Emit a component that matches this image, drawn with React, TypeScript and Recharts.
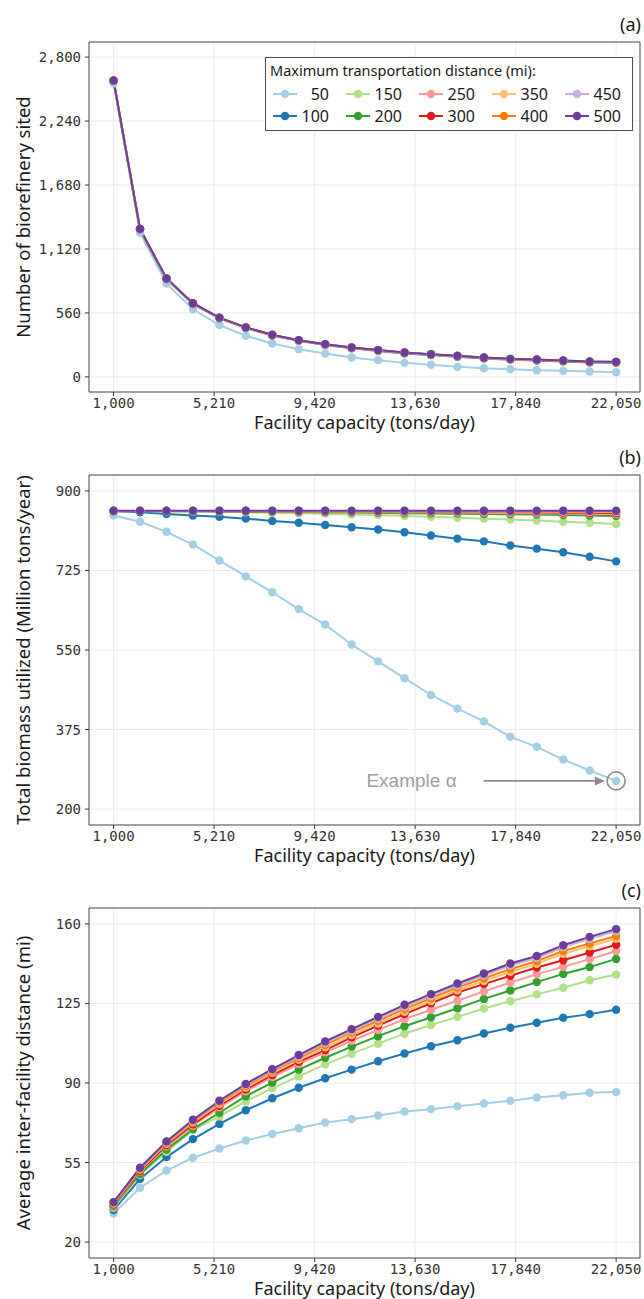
import React from "react";
import {
  CartesianGrid,
  Line,
  LineChart,
  ReferenceArea,
  ReferenceDot,
  ReferenceLine,
  XAxis,
  YAxis
} from "recharts";

const TEXT_FONT = "'Noto Sans', 'Open Sans', sans-serif";
const TICK_FONT = "'DejaVu Sans Mono', monospace";

// facility capacity (tons/day), 20 runs
const capacities = [
  1000, 2108, 3216, 4324, 5432, 6539, 7647, 8755, 9863, 10971,
  12079, 13187, 14295, 15403, 16511, 17618, 18726, 19834, 20942, 22050
];
const distances = [50, 100, 150, 200, 250, 300, 350, 400, 450, 500];
const colors = [
  "#a6cee3", "#1f78b4", "#b2df8a", "#33a02c", "#fb9a99",
  "#e31a1c", "#fdbf6f", "#ff7f00", "#cab2d6", "#6a3d9a"
];

const xTicks = [1000, 5210, 9420, 13630, 17840, 22050];
const sitedTicks = [0, 560, 1120, 1680, 2240, 2800];
const biomassTicks = [200, 375, 550, 725, 900];
const spacingTicks = [20, 55, 90, 125, 160];

// (a) number of biorefineries sited
const sited50 = [2571, 1261, 817, 592, 454, 361, 293, 243, 205, 170, 147, 123, 106, 88, 76, 67, 59, 53, 47, 41];
const sited100 = [2590, 1290, 857, 639, 513, 428, 362, 316, 280, 251, 227, 206, 191, 177, 162, 150, 144, 136, 127, 123];
const sited150 = [2591, 1292, 859, 641, 515, 430, 365, 318, 283, 254, 230, 209, 194, 180, 165, 153, 147, 139, 130, 127];
const sited200 = [2592, 1293, 859, 642, 516, 431, 366, 319, 284, 255, 231, 210, 195, 181, 166, 154, 148, 140, 131, 128];
const sited250 = [2592, 1293, 860, 642, 516, 431, 366, 319, 284, 255, 232, 211, 196, 182, 167, 155, 149, 141, 132, 129];
const sited300 = [2593, 1294, 860, 643, 517, 432, 367, 320, 285, 256, 233, 212, 196, 182, 168, 156, 149, 141, 133, 129];
const sited350 = [2593, 1294, 860, 643, 517, 432, 367, 320, 285, 256, 233, 212, 197, 183, 168, 156, 150, 142, 133, 130];
const sited400 = [2593, 1294, 861, 644, 518, 433, 368, 321, 286, 257, 234, 213, 197, 183, 169, 157, 150, 142, 134, 130];
const sited450 = [2594, 1295, 861, 644, 518, 433, 368, 321, 286, 257, 234, 213, 198, 184, 169, 157, 151, 143, 134, 131];
const sited500 = [2595, 1296, 862, 645, 519, 434, 369, 322, 287, 258, 235, 214, 199, 185, 170, 158, 152, 144, 135, 132];

// (b) total biomass utilized (million tons/year)
const biomass50 = [846, 832, 810, 782, 747, 712, 677, 640, 606, 562, 525, 488, 451, 421, 393, 359, 337, 309, 285, 262];
const biomass100 = [855, 853, 849, 846, 843, 839, 834, 830, 825, 820, 815, 809, 802, 795, 789, 780, 773, 765, 755, 745];
const biomass150 = [856, 855.5, 855, 854.5, 854, 853, 852, 851, 850, 848, 847, 845, 843, 841, 839, 837, 835, 832, 830, 827];
const biomass200 = [856, 856, 855.5, 855.5, 855, 854.5, 854, 853.5, 853, 852.5, 852, 851, 850.5, 850, 849, 848.5, 848, 847, 846, 845];
const biomass250 = [856, 856, 856, 855.5, 855.5, 855, 855, 854.5, 854.5, 854, 853.5, 853, 853, 852.5, 852, 851.5, 851, 850.5, 850, 849];
const biomass300 = [856, 856, 856, 856, 855.5, 855.5, 855.5, 855, 855, 855, 854.5, 854.5, 854, 854, 853.5, 853.5, 853, 852.5, 852, 851.5];
const biomass350 = [856, 856, 856, 856, 856, 856, 855.5, 855.5, 855.5, 855.5, 855, 855, 855, 855, 854.5, 854.5, 854.5, 854, 854, 853.5];
const biomass400 = [856, 856, 856, 856, 856, 856, 856, 856, 855.5, 855.5, 855.5, 855.5, 855.5, 855, 855, 855, 855, 854.5, 854.5, 854.5];
const biomass450 = [856, 856, 856, 856, 856, 856, 856, 856, 856, 856, 856, 855.5, 855.5, 855.5, 855.5, 855.5, 855.5, 855, 855, 855];
const biomass500 = [856.5, 856.5, 856.5, 856.5, 856.5, 856.5, 856.5, 856.5, 856.5, 856.5, 856.5, 856.5, 856.5, 856.5, 856.5, 856.5, 856.5, 856.5, 856.5, 856.5];

// (c) average inter-facility distance (mi)
const spacing50 = [32.6, 43.9, 51.5, 57.1, 61.2, 64.7, 67.6, 70.1, 72.6, 74.1, 75.7, 77.5, 78.5, 79.8, 81.0, 82.2, 83.6, 84.6, 85.7, 86.0];
const spacing100 = [34.1, 47.8, 57.4, 65.3, 72.0, 78.0, 83.3, 87.9, 92.1, 95.9, 99.6, 103.0, 106.2, 108.8, 111.8, 114.3, 116.5, 118.7, 120.3, 122.2];
const spacing150 = [35.1, 49.5, 59.7, 69.3, 75.3, 81.9, 87.7, 92.9, 98.2, 102.9, 107.3, 111.7, 115.5, 119.1, 122.8, 126.0, 129.0, 131.9, 135.2, 137.7];
const spacing200 = [35.8, 50.0, 60.7, 69.7, 76.9, 84.2, 90.2, 95.9, 101.1, 106.0, 110.6, 115.0, 118.9, 122.9, 127.0, 130.7, 134.4, 138.0, 141.0, 144.6];
const spacing250 = [36.2, 51.0, 62.0, 71.2, 79.3, 86.4, 92.6, 98.3, 103.5, 108.6, 113.3, 118.1, 122.2, 126.2, 130.3, 134.2, 137.9, 141.1, 144.5, 148.1];
const spacing300 = [36.5, 51.3, 62.6, 71.8, 80.0, 87.2, 93.5, 99.3, 104.5, 110.1, 115.3, 120.3, 125.1, 129.8, 133.5, 137.2, 140.8, 144.0, 147.4, 150.8];
const spacing350 = [37.0, 51.9, 63.3, 72.6, 80.8, 88.0, 94.5, 100.3, 105.7, 111.1, 116.2, 121.3, 126.1, 130.8, 134.9, 138.9, 142.5, 146.9, 150.2, 153.5];
const spacing400 = [37.2, 52.2, 63.7, 73.1, 81.4, 88.7, 95.2, 101.0, 106.8, 112.3, 117.4, 122.5, 127.3, 132.0, 136.1, 140.1, 143.7, 148.1, 151.4, 154.7];
const spacing450 = [37.4, 52.5, 64.0, 73.5, 81.8, 89.2, 95.7, 101.6, 107.6, 113.0, 118.3, 123.5, 128.2, 132.9, 137.3, 141.7, 145.0, 149.7, 153.4, 156.8];
const spacing500 = [37.6, 52.7, 64.3, 73.8, 82.2, 89.6, 96.1, 102.3, 108.3, 113.7, 119.1, 124.4, 129.1, 133.8, 138.2, 142.6, 145.9, 150.6, 154.3, 157.7];

const sitedSeries = [sited50, sited100, sited150, sited200, sited250, sited300, sited350, sited400, sited450, sited500];
const biomassSeries = [biomass50, biomass100, biomass150, biomass200, biomass250, biomass300, biomass350, biomass400, biomass450, biomass500];
const spacingSeries = [spacing50, spacing100, spacing150, spacing200, spacing250, spacing300, spacing350, spacing400, spacing450, spacing500];

const X_DOMAIN: [number, number] = [-30, 23050];

function toRows(series: number[][]) {
  return capacities.map((capacity, i) => {
    const row: Record<string, number> = { capacity };
    distances.forEach((d, k) => {
      row[`d${d}`] = series[k][i];
    });
    return row;
  });
}

const fmtTick = (v: number) => v.toLocaleString("en-US");

function YTitle({ viewBox, text }: { viewBox?: any; text: string }) {
  const cy = viewBox ? viewBox.y + viewBox.height / 2 : 217;
  const cx = 22;
  return (
    <text
      x={cx}
      y={cy}
      transform={`rotate(-90 ${cx} ${cy})`}
      textAnchor="middle"
      dominantBaseline="central"
      fontFamily={TEXT_FONT}
      fontSize={18.5}
      fill="#1a1a1a"
    >
      {text}
    </text>
  );
}

function XTitle({ viewBox }: { viewBox?: any }) {
  const cx = viewBox ? viewBox.x + viewBox.width / 2 : 365;
  const cy = viewBox ? viewBox.y + 30 : 422;
  return (
    <text x={cx} y={cy} textAnchor="middle" dominantBaseline="central" fontFamily={TEXT_FONT} fontSize={18} fill="#1a1a1a">
      Facility capacity (tons/day)
    </text>
  );
}

function ExampleArrow(props: any) {
  const { x1, y1, x2 } = props;
  const tip = x2;
  return (
    <g>
      <line x1={x1} y1={y1} x2={tip - 8} y2={y1} stroke="#8c8c8c" strokeWidth={1.6} />
      <polygon points={`${tip},${y1} ${tip - 10},${y1 - 4.5} ${tip - 10},${y1 + 4.5}`} fill="#8c8c8c" />
      <text
        x={x1 - 27}
        y={y1}
        textAnchor="end"
        dominantBaseline="central"
        fontFamily="'Liberation Sans', Arial, sans-serif"
        fontSize={19}
        fill="#9e9e9e"
      >
        Example α
      </text>
    </g>
  );
}

function Panel({
  top,
  tag,
  series,
  yDomain,
  yTicks,
  yLabel,
  annotate
}: {
  top: number;
  tag: string;
  series: number[][];
  yDomain: [number, number];
  yTicks: number[];
  yLabel: string;
  annotate?: boolean;
}) {
  const rows = toRows(series);
  const lastX = capacities[capacities.length - 1];
  const lastY = series[0][series[0].length - 1];
  return (
    <div style={{ position: "absolute", left: 0, top, width: 644, height: 437 }}>
      <div
        style={{
          position: "absolute",
          right: 3,
          top: 13,
          fontFamily: TEXT_FONT,
          fontSize: 18,
          lineHeight: "22px",
          color: "#1a1a1a"
        }}
      >
        {tag}
      </div>
      <LineChart
        width={644}
        height={437}
        data={rows}
        margin={{ top: 42, right: 4, bottom: 0, left: 0 }}
      >
        <CartesianGrid stroke="#ebebeb" strokeWidth={1} />
        <XAxis
          type="number"
          dataKey="capacity"
          domain={X_DOMAIN}
          ticks={xTicks}
          interval={0}
          allowDataOverflow
          tickFormatter={fmtTick}
          axisLine={false}
          tickSize={4}
          tickMargin={2}
          tickLine={{ stroke: "#333" }}
          tick={{ fontFamily: TICK_FONT, fontSize: 14, fill: "#333" }}
          height={45}
          label={<XTitle />}
        />
        <YAxis
          type="number"
          domain={yDomain}
          ticks={yTicks}
          interval={0}
          allowDataOverflow
          tickFormatter={fmtTick}
          axisLine={false}
          tickSize={4}
          tickMargin={4}
          tickLine={{ stroke: "#333" }}
          tick={{ fontFamily: TICK_FONT, fontSize: 14, fill: "#333" }}
          width={89}
          label={<YTitle text={yLabel} />}
        />
        {distances.map((d, k) => (
          <Line
            key={d}
            type="linear"
            dataKey={`d${d}`}
            stroke={colors[k]}
            strokeWidth={2}
            dot={{ r: 4.2, fill: colors[k], stroke: colors[k], strokeWidth: 0 }}
            activeDot={false}
            isAnimationActive={false}
          />
        ))}
        {annotate ? (
          <ReferenceLine
            segment={[
              { x: 16500, y: lastY },
              { x: 21580, y: lastY }
            ]}
            shape={(p: any) => <ExampleArrow {...p} />}
          />
        ) : null}
        {annotate ? (
          <ReferenceDot x={lastX} y={lastY} r={9} fill="none" stroke="#8c8c8c" strokeWidth={1.6} />
        ) : null}
        <ReferenceArea
          x1={X_DOMAIN[0]}
          x2={X_DOMAIN[1]}
          y1={yDomain[0]}
          y2={yDomain[1]}
          fill="none"
          stroke="#4d4d4d"
          strokeWidth={1}
        />
      </LineChart>
    </div>
  );
}

function LegendBox() {
  return (
    <div
      style={{
        position: "absolute",
        left: 265,
        top: 57,
        width: 368,
        height: 74,
        border: "1px solid #4d4d4d",
        background: "#fff",
        boxSizing: "border-box",
        fontFamily: TEXT_FONT,
        color: "#1a1a1a"
      }}
    >
      <div style={{ position: "absolute", left: 4, top: 2, fontSize: 14.5, lineHeight: "20px", whiteSpace: "nowrap" }}>
        Maximum transportation distance (mi):
      </div>
      {distances.map((d, i) => {
        const col = Math.floor(i / 2);
        const row = i % 2;
        return (
          <div
            key={d}
            style={{
              position: "absolute",
              left: 7 + col * 73,
              top: row ? 48 : 26,
              height: 20,
              display: "flex",
              alignItems: "center"
            }}
          >
            <svg width={24} height={20}>
              <line x1={0} y1={10} x2={24} y2={10} stroke={colors[i]} strokeWidth={2} />
              <circle cx={12} cy={10} r={4.2} fill={colors[i]} />
            </svg>
            <span style={{ width: 32, textAlign: "right", fontSize: 16, lineHeight: "20px" }}>{d}</span>
          </div>
        );
      })}
    </div>
  );
}

export default function App() {
  return (
    <div style={{ position: "relative", width: 644, height: 1299, background: "#fff", overflow: "hidden" }}>
      <style>{"body{margin:0}"}</style>
      <Panel
        top={0}
        tag="(a)"
        series={sitedSeries}
        yDomain={[-132, 2932]}
        yTicks={sitedTicks}
        yLabel="Number of biorefinery sited"
      />
      <Panel
        top={433}
        tag="(b)"
        series={biomassSeries}
        yDomain={[165, 935]}
        yTicks={biomassTicks}
        yLabel="Total biomass utilized (Million tons/year)"
        annotate
      />
      <Panel
        top={866}
        tag="(c)"
        series={spacingSeries}
        yDomain={[13, 167]}
        yTicks={spacingTicks}
        yLabel="Average inter-facility distance (mi)"
      />
      <LegendBox />
    </div>
  );
}
